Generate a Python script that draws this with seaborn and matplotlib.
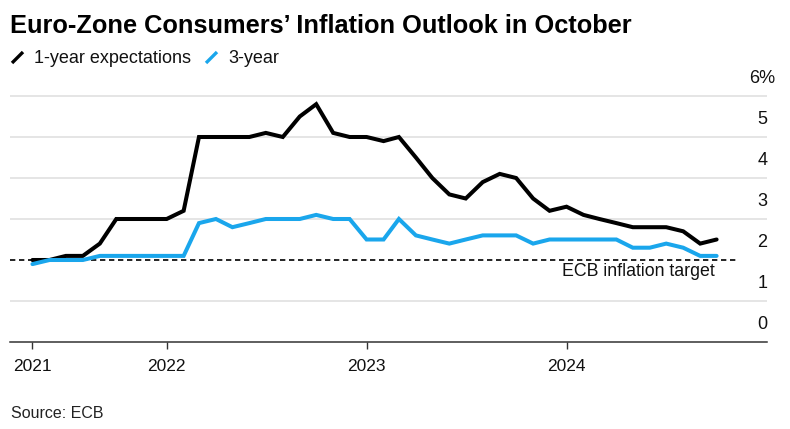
import numpy as np
import pandas as pd
import matplotlib
matplotlib.use("Agg")
import matplotlib.pyplot as plt
import seaborn as sns
from matplotlib.lines import Line2D

# ---- data ----
months = pd.date_range("2021-05-01", "2024-10-01", freq="MS")
one_year = [2.0, 2.0, 2.1, 2.1, 2.4, 3.0, 3.0, 3.0, 3.0, 3.2,
            5.0, 5.0, 5.0, 5.0, 5.1, 5.0, 5.5, 5.8, 5.1, 5.0,
            5.0, 4.9, 5.0, 4.5, 4.0, 3.6, 3.5, 3.9, 4.1, 4.0,
            3.5, 3.2, 3.3, 3.1, 3.0, 2.9, 2.8, 2.8, 2.8, 2.7,
            2.4, 2.5]
three_year = [1.9, 2.0, 2.0, 2.0, 2.1, 2.1, 2.1, 2.1, 2.1, 2.1,
              2.9, 3.0, 2.8, 2.9, 3.0, 3.0, 3.0, 3.1, 3.0, 3.0,
              2.5, 2.5, 3.0, 2.6, 2.5, 2.4, 2.5, 2.6, 2.6, 2.6,
              2.4, 2.5, 2.5, 2.5, 2.5, 2.5, 2.3, 2.3, 2.4, 2.3,
              2.1, 2.1]
series_names = ["1-year expectations", "3-year"]
ecb_target = 2.0
y_ticks = [0, 1, 2, 3, 4, 5, 6]
y_labels = ["0", "1", "2", "3", "4", "5", "6%"]
x_tick_labels = ["2021", "2022", "2023", "2024"]
x_tick_dates = [months[0], pd.Timestamp("2022-01-01"),
                pd.Timestamp("2023-01-01"), pd.Timestamp("2024-01-01")]

df = pd.DataFrame({
    "date": list(months) * 2,
    "value": one_year + three_year,
    "series": [series_names[0]] * len(months) + [series_names[1]] * len(months),
})

BLUE = "#1AA6EC"
W, H = 790, 429
FONT = ["Liberation Sans", "DejaVu Sans"]

sns.set_theme(style="white")
plt.rcParams["font.family"] = FONT

fig = plt.figure(figsize=(W / 100, H / 100), dpi=100)

def fx(x):
    return x / W

def fy(y):
    return 1 - y / H

# axes: left 10 px, right 767 px, y=0 at 342 px
px_per_unit = 41.0
y_top_val = 6.05
ax_top = 342 - px_per_unit * y_top_val
ax = fig.add_axes([fx(10), fy(342), fx(767) - fx(10), (342 - ax_top) / H])

sns.lineplot(data=df, x="date", y="value", hue="series",
             palette={series_names[0]: "black", series_names[1]: BLUE},
             linewidth=2.9, ax=ax, legend=False, zorder=3)
for ln in ax.get_lines():
    ln.set_solid_joinstyle("miter")

ax.set_xlim(pd.Timestamp("2021-03-21"), pd.Timestamp("2025-01-01"))
ax.set_ylim(0, y_top_val)

# gridlines (except at target level, which is dashed)
grid_vals = [v for v in y_ticks if v not in (0, ecb_target)]
for v in grid_vals:
    ax.axhline(v, color="#DEDEDE", lw=1.1, zorder=1)
ax.axhline(ecb_target, xmin=0, xmax=(738 - 10) / (767 - 10), color="black",
           lw=1.2, ls=(0, (3.2, 2.2)), zorder=2)

# y labels on the right, above gridlines
for v, lab in zip(y_ticks, y_labels):
    ax.annotate(lab, xy=(1.0, v), xycoords=("axes fraction", "data"),
                xytext=(-3.5, 6.5), textcoords="offset points",
                ha="center", va="bottom", fontsize=13, color="#111111")

ax.set_yticks([])
ax.set_xticks(x_tick_dates)
ax.set_xticklabels(x_tick_labels, fontsize=12.5, color="#111111")
ax.tick_params(axis="x", direction="out", length=5, width=1, color="#333333",
               pad=7, bottom=True)
ax.set_xlabel("")
ax.set_ylabel("")
for s in ["top", "right", "left"]:
    ax.spines[s].set_visible(False)
ax.spines["bottom"].set_color("#333333")
ax.spines["bottom"].set_linewidth(1.1)

ax.text((715 - 10) / (767 - 10), ecb_target - 0.08, "ECB inflation target",
        transform=ax.get_yaxis_transform(),
        ha="right", va="top", fontsize=12.8, color="#111111")

# title, legend, source
fig.text(fx(10), fy(33), "Euro-Zone Consumers\u2019 Inflation Outlook in October",
         fontsize=18.3, fontweight="bold", ha="left", va="baseline", color="black")

fig.add_artist(Line2D([fx(12), fx(23)], [fy(63), fy(52)], color="black", lw=2.4,
                      transform=fig.transFigure, solid_capstyle="butt"))
fig.text(fx(34), fy(63), series_names[0], fontsize=13, ha="left",
         va="baseline", color="#111111")
fig.add_artist(Line2D([fx(206), fx(217)], [fy(63), fy(52)], color=BLUE, lw=2.4,
                      transform=fig.transFigure, solid_capstyle="butt"))
fig.text(fx(228), fy(63), series_names[1], fontsize=13, ha="left",
         va="baseline", color="#111111")

fig.text(fx(11), fy(418), "Source: ECB", fontsize=11.5, ha="left",
         va="baseline", color="#222222")

fig.savefig("out.png", dpi=100)
